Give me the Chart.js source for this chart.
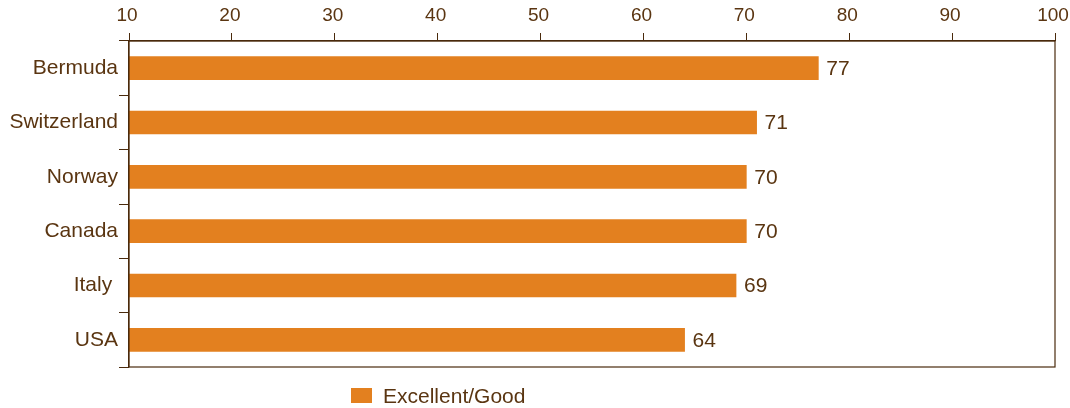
<!DOCTYPE html>
<html lang="en">
<head>
  <meta charset="UTF-8">
  <title>Excellent/Good</title>
  <script src="https://cdn.jsdelivr.net/npm/chart.js"></script>
  <style>
    html, body { margin: 0; padding: 0; background: #fff; }
    #wrap { width: 1070px; height: 408px; }
  </style>
</head>
<body>
  <div id="wrap"><canvas id="chart"></canvas></div>
  <script>
    const countries = ['Bermuda', 'Switzerland', 'Norway', 'Canada', 'Italy ', 'USA'];
    const excellentGood = [77, 71, 70, 70, 69, 64];
    const seriesName = 'Excellent/Good';

    const textColor = '#5a3511';
    const lineColor = '#4a2a0c';
    const barColor = '#e3801f';
    const family = 'Liberation Sans, Arial, sans-serif';
    const labelFont = { family: family, size: 21 };
    const tickFont = { family: family, size: 19 };

    // frame round the plot, value labels and the legend
    const extras = {
      id: 'extras',
      afterDatasetsDraw(chart) {
        const ctx = chart.ctx;
        const a = chart.chartArea;
        ctx.save();
        ctx.strokeStyle = lineColor;
        ctx.lineWidth = 1.2;
        ctx.strokeRect(a.left, a.top, a.right - a.left, a.bottom - a.top);

        ctx.fillStyle = textColor;
        ctx.font = `${labelFont.size}px ${family}`;
        ctx.textBaseline = 'middle';
        ctx.textAlign = 'left';
        chart.getDatasetMeta(0).data.forEach((bar, i) => {
          ctx.fillText(String(excellentGood[i]), bar.x + 8, bar.y + 1);
        });

        // legend
        ctx.fillStyle = barColor;
        ctx.fillRect(351, 388, 21, 15);
        ctx.fillStyle = textColor;
        ctx.fillText(seriesName, 383, 397);
        ctx.restore();
      }
    };

    new Chart(document.getElementById('chart'), {
      type: 'bar',
      data: {
        labels: countries,
        datasets: [{
          label: seriesName,
          data: excellentGood,
          backgroundColor: barColor,
          barThickness: 23
        }]
      },
      options: {
        indexAxis: 'y',
        responsive: true,
        maintainAspectRatio: false,
        animation: false,
        layout: { padding: { left: 0, top: 0, right: 15, bottom: 41 } },
        plugins: {
          legend: { display: false },
          tooltip: { enabled: false }
        },
        scales: {
          x: {
            position: 'top',
            min: 10,
            max: 100,
            ticks: { stepSize: 10, color: textColor, font: tickFont, padding: 6, labelOffset: -2 },
            grid: { drawOnChartArea: false, tickLength: 8, color: lineColor },
            border: { color: lineColor, width: 1.2 },
            afterFit(scale) {
              scale.height = 41;
              scale.paddingLeft = 0;
              scale.paddingRight = 0;
            }
          },
          y: {
            grid: { offset: true, drawOnChartArea: false, tickLength: 10, color: lineColor },
            ticks: { color: textColor, font: labelFont, padding: 1 },
            border: { color: lineColor, width: 1.2 },
            afterFit(scale) { scale.width = 129; }
          }
        }
      },
      plugins: [extras]
    });
  </script>
</body>
</html>
